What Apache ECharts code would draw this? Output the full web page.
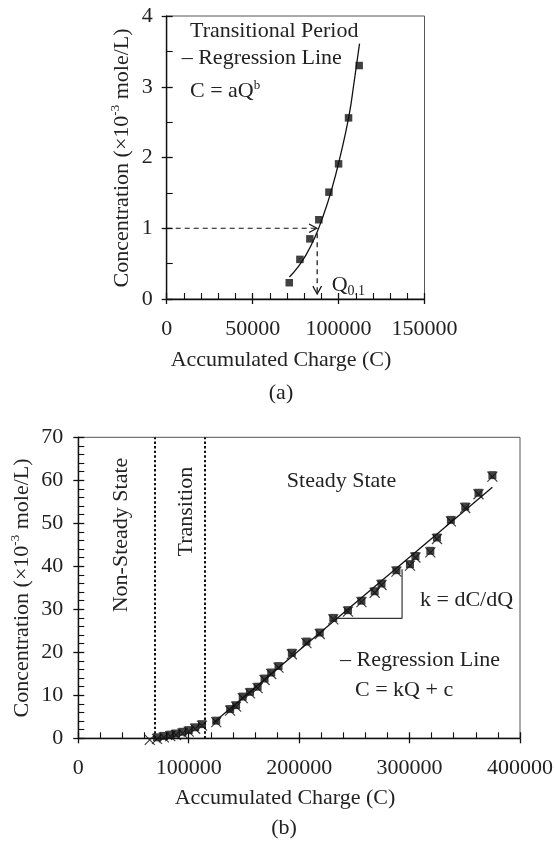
<!DOCTYPE html>
<html>
<head>
<meta charset="utf-8">
<script src="https://cdn.jsdelivr.net/npm/echarts@6/dist/echarts.min.js"></script>
<style>
  html, body { margin: 0; padding: 0; background: #fff; }
  #chart { width: 556px; height: 843px; }
</style>
</head>
<body>
<div id="chart"></div>
<script>
// (a) transitional period: measured concentration vs accumulated charge
const transQ = [71300, 77500, 83300, 88500, 94400, 100000, 105800, 112000];
const transC = [0.23, 0.56, 0.85, 1.12, 1.51, 1.91, 2.56, 3.30];

// (a) power-law regression curve C = aQ^b, sampled along the drawn curve
const curveQ = [71400, 76000, 81000, 86000, 91000, 96000, 101000, 106000, 109000, 112200];
const curveC = [0.31, 0.44, 0.62, 0.86, 1.17, 1.55, 2.02, 2.58, 3.06, 3.61];

// (a) Q0.1 read-off arrows: [Q start, C start, Q end, C end]
const arrowH = [0, 1, 87400, 1];
const arrowV = [87560, 0.93, 87560, 0.07];

// (b) non-steady state start marker
const nonSteadyQ = [64700];
const nonSteadyC = [0];

// (b) steady-state measurements
const steadyQ = [124900, 137500, 142900, 148900, 155500, 162400, 168700, 174700, 181300,
  193400, 206600, 218700, 230900, 244200, 256400, 268400, 274600, 288100, 300400,
  305300, 318800, 324800, 337400, 350400, 362400, 375000];
const steadyC = [4.1, 6.8, 7.7, 9.7, 10.8, 12.0, 13.9, 15.3, 16.8,
  19.9, 22.5, 24.6, 28.0, 29.8, 32.0, 34.2, 36.0, 39.1, 40.5,
  42.4, 43.6, 46.7, 50.8, 53.9, 57.1, 61.2];

// (b) linear regression line C = kQ + c (end points)
const regQ = [121800, 375000];
const regC = [3.5, 58.4];

// (b) slope triangle k = dC/dQ
const slopeQ = [234300, 293200, 293200];
const slopeC = [27.9, 27.9, 39.3];

// (b) boundaries: non-steady | transition | steady
const boundaryQ = [69200, 114900];

// axis ranges and ticks
const topX = { min: 0, max: 150000, interval: 50000, minor: 5 };
const topY = { min: 0, max: 4, interval: 1, minor: 2 };
const botX = { min: 0, max: 400000, interval: 100000, minor: 5 };
const botY = { min: 0, max: 70, interval: 10, minor: 5 };

const FONT = '"Liberation Serif", "Times New Roman", serif';
const INK = '#111';
const TXT = '#222';

const zip = (a, b) => a.map((v, i) => [v, b[i]]);

// Each axis is drawn twice: once with outward major ticks and labels,
// once with inward major + minor ticks, so major ticks cross the axis line.
function axes(spec, gridIndex, position, labelMargin) {
  const common = {
    type: 'value', gridIndex, position,
    min: spec.min, max: spec.max, interval: spec.interval,
    splitLine: { show: false }
  };
  const outer = Object.assign({}, common, {
    axisLine: { show: true, onZero: false, lineStyle: { color: INK, width: 1.4 } },
    axisTick: { show: true, inside: false, length: 5, lineStyle: { color: INK, width: 1.3 } },
    axisLabel: {
      margin: labelMargin, fontFamily: FONT, fontSize: 22, color: TXT,
      formatter: v => String(v)
    }
  });
  const inner = Object.assign({}, common, {
    axisLine: { show: false },
    axisTick: { show: true, inside: true, length: 6, lineStyle: { color: INK, width: 1.3 } },
    minorTick: { show: true, splitNumber: spec.minor, length: 6, lineStyle: { color: INK, width: 1.1 } },
    axisLabel: { show: false }
  });
  return [outer, inner];
}

const xAxes = [...axes(topX, 0, 'bottom', 19), ...axes(botX, 1, 'bottom', 19)];
const yAxes = [...axes(topY, 0, 'left', 14), ...axes(botY, 1, 'left', 15)];

function arrowItem(params, api) {
  const p0 = api.coord([api.value(0), api.value(1)]);
  const p1 = api.coord([api.value(2), api.value(3)]);
  const ang = Math.atan2(p1[1] - p0[1], p1[0] - p0[0]);
  const L = 9, w = 0.5;
  const a1 = [p1[0] - L * Math.cos(ang - w), p1[1] - L * Math.sin(ang - w)];
  const a2 = [p1[0] - L * Math.cos(ang + w), p1[1] - L * Math.sin(ang + w)];
  return {
    type: 'group',
    children: [
      { type: 'line', shape: { x1: p0[0], y1: p0[1], x2: p1[0], y2: p1[1] },
        style: { stroke: INK, lineWidth: 1.2, lineDash: [5, 4], fill: null } },
      { type: 'polyline', shape: { points: [a1, p1, a2] },
        style: { stroke: INK, lineWidth: 1.2, fill: null } }
    ]
  };
}

const crossPath = 'path://M0,0L10,10M10,0L0,10';
const allQ = [...nonSteadyQ, ...transQ, ...steadyQ];
const allC = [...nonSteadyC, ...transC, ...steadyC];

const supRich = {
  sup: { fontFamily: FONT, fontSize: 13, lineHeight: 13, verticalAlign: 'top', fill: TXT },
  sub: { fontFamily: FONT, fontSize: 14, lineHeight: 14, verticalAlign: 'bottom', fill: TXT }
};
function label(text, x, y, opts) {
  return Object.assign({
    type: 'text', x, y, silent: true,
    style: Object.assign({
      text, fontFamily: FONT, fontSize: 22, fill: TXT, lineHeight: 26,
      align: 'left', verticalAlign: 'middle', rich: supRich
    }, opts && opts.style)
  }, opts && opts.el);
}

const option = {
  animation: false,
  backgroundColor: '#fff',
  grid: [
    { left: 166.7, top: 16, width: 257.8, height: 283, show: true, borderColor: '#555', borderWidth: 1 },
    { left: 78.3, top: 437.3, width: 443.4, height: 301, show: true, borderColor: '#555', borderWidth: 1 }
  ],
  xAxis: xAxes,
  yAxis: yAxes,
  series: [
    // (a)
    {
      type: 'line', xAxisIndex: 0, yAxisIndex: 0, data: zip(curveQ, curveC),
      smooth: true, showSymbol: false, symbol: 'none',
      lineStyle: { color: INK, width: 1.3 }, z: 3
    },
    {
      type: 'scatter', xAxisIndex: 0, yAxisIndex: 0, data: zip(transQ, transC),
      symbol: 'rect', symbolSize: 7.5, itemStyle: { color: INK }, z: 4
    },
    {
      type: 'custom', xAxisIndex: 0, yAxisIndex: 0, renderItem: arrowItem,
      data: [arrowH, arrowV], encode: { x: [0, 2], y: [1, 3] }, clip: false, z: 2
    },
    // (b)
    {
      type: 'line', xAxisIndex: 2, yAxisIndex: 2, data: zip(regQ, regC),
      showSymbol: false, symbol: 'none', lineStyle: { color: INK, width: 1.3 }, z: 3,
      markLine: {
        silent: true, symbol: ['none', 'none'], label: { show: false },
        lineStyle: { color: INK, width: 2, type: [2.4, 2.2] },
        data: boundaryQ.map(q => ({ xAxis: q }))
      }
    },
    {
      type: 'line', xAxisIndex: 2, yAxisIndex: 2, data: zip(slopeQ, slopeC),
      showSymbol: false, symbol: 'none', lineStyle: { color: '#333', width: 1.2 }, z: 2
    },
    {
      type: 'scatter', xAxisIndex: 2, yAxisIndex: 2, data: zip(allQ, allC),
      symbol: crossPath, symbolSize: 10, symbolOffset: [0, 1.5],
      itemStyle: { color: 'none', borderColor: INK, borderWidth: 1.2 }, z: 4
    },
    {
      type: 'scatter', xAxisIndex: 2, yAxisIndex: 2, data: zip([...transQ, ...steadyQ], [...transC, ...steadyC]),
      symbol: 'rect', symbolSize: 8, itemStyle: { color: INK }, z: 5
    }
  ],
  graphic: [
    // (a) annotations
    label('Transitional Period', 190, 31.7),
    label('– Regression Line', 181.7, 58.3),
    label('C = aQ{sup|b}', 190, 91.7),
    label('Q{sub|0.1}', 331.7, 285),
    label('Concentration (×10{sup|-3} mole/L)', 122, 158,
      { style: { align: 'center' }, el: { rotation: Math.PI / 2 } }),
    label('Accumulated Charge (C)', 281, 360, { style: { align: 'center' } }),
    label('(a)', 281, 393, { style: { align: 'center' } }),
    // (b) annotations
    label('Non-Steady State', 121, 535, { style: { align: 'center' }, el: { rotation: Math.PI / 2 } }),
    label('Transition', 186.5, 511.7, { style: { align: 'center' }, el: { rotation: Math.PI / 2 } }),
    label('Steady State', 341.5, 481.7, { style: { align: 'center' } }),
    label('k = dC/dQ', 420, 600),
    label('– Regression Line', 340, 660),
    label('C = kQ + c', 355, 690),
    label('Concentration (×10{sup|-3} mole/L)', 22.3, 588,
      { style: { align: 'center' }, el: { rotation: Math.PI / 2 } }),
    label('Accumulated Charge (C)', 285, 798, { style: { align: 'center' } }),
    label('(b)', 284, 828, { style: { align: 'center' } })
  ]
};

const chart = echarts.init(document.getElementById('chart'), null, { renderer: 'canvas' });
chart.setOption(option);
</script>
</body>
</html>
